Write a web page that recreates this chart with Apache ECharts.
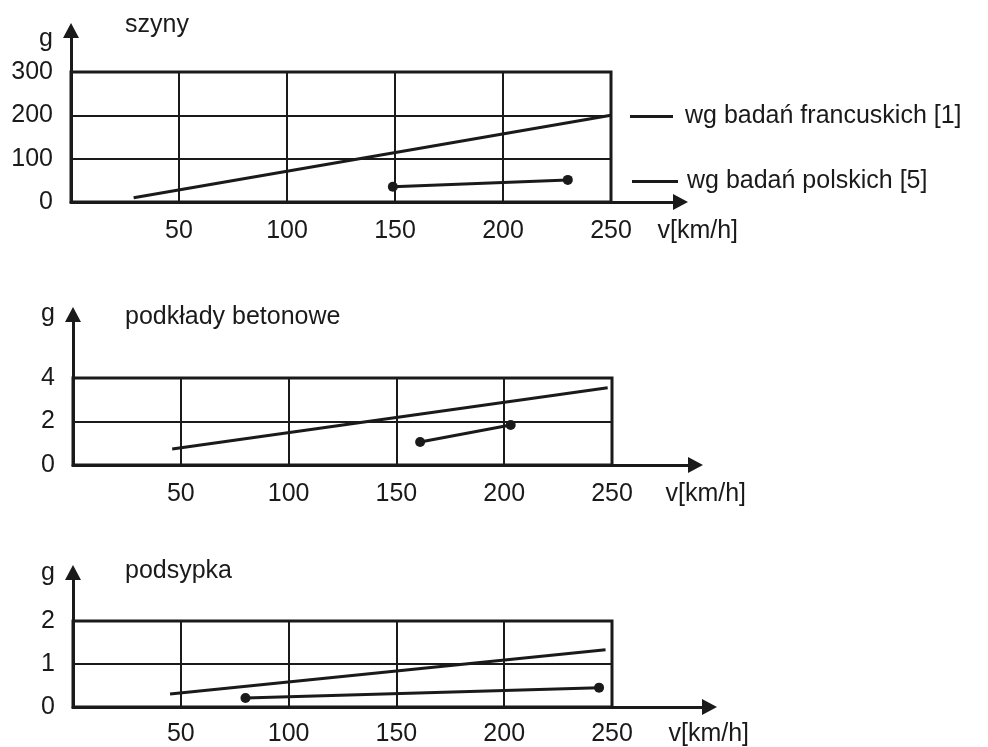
<!DOCTYPE html>
<html><head><meta charset="utf-8">
<script src="https://cdn.jsdelivr.net/npm/echarts@6/dist/echarts.min.js"></script>
<style>html,body{margin:0;padding:0;background:#fff}#c{width:988px;height:747px}</style>
</head><body><div id="c"></div>
<script>
// ---- data ----
const xTicks = [0, 50, 100, 150, 200, 250];
const panelTitles = ['szyny', 'podkłady betonowe', 'podsypka'];
const yTicksSzyny = [0, 100, 200, 300];
const yTicksPodklady = [0, 2, 4];
const yTicksPodsypka = [0, 1, 2];
const seriesNames = ['wg badań francuskich [1]', 'wg badań polskich [5]'];
const xAxisName = 'v[km/h]';
const yAxisName = 'g';

const frenchSzyny = [[29, 10], [250, 200]];
const polishSzyny = [[149, 35], [230, 51]];
const frenchPodklady = [[46, 0.74], [248, 3.55]];
const polishPodklady = [[161, 1.06], [203, 1.84]];
const frenchPodsypka = [[45, 0.3], [247, 1.33]];
const polishPodsypka = [[80, 0.21], [244, 0.45]];

// ---- layout / style ----
const INK = '#1a1a1a';
const FONT = '"Liberation Sans", Arial, sans-serif';
const FS = 25;
const ARROW_H = 15;
const layout = [
  { left: 71, top: 72, width: 540, height: 130, tipX: 688, tipY: 23, lm: 17, nameGapX: -23, nameGapY: -9, titleTop: 13, yTicks: yTicksSzyny, french: frenchSzyny, polish: polishSzyny },
  { left: 73, top: 378, width: 539, height: 87, tipX: 703, tipY: 307, lm: 17, nameGapX: -30, nameGapY: 0, titleTop: 305, yTicks: yTicksPodklady, french: frenchPodklady, polish: polishPodklady },
  { left: 73, top: 621, width: 539, height: 86, tipX: 717, tipY: 565, lm: 15, nameGapX: -41, nameGapY: -1, titleTop: 559, yTicks: yTicksPodsypka, french: frenchPodsypka, polish: polishPodsypka }
];

const grid = [], xAxis = [], yAxis = [], series = [], title = [];
layout.forEach((p, i) => {
  const a = 2 * i, b = 2 * i + 1;
  const bottomPx = p.top + p.height;
  const bTop = p.tipY + ARROW_H / 2;
  grid.push({ left: p.left, top: p.top, width: p.width, height: p.height, show: true, borderWidth: 3, borderColor: INK, backgroundColor: 'transparent', containLabel: false });
  grid.push({ left: p.left, top: bTop, width: p.tipX - ARROW_H / 2 - p.left, height: bottomPx - bTop, containLabel: false });
  xAxis.push({
    gridIndex: a, type: 'value', min: xTicks[0], max: xTicks[xTicks.length - 1], interval: xTicks[1] - xTicks[0],
    axisLine: { show: false }, axisTick: { show: false },
    axisLabel: { margin: p.lm, fontSize: FS, color: INK, fontFamily: FONT, formatter: v => (v === 0 ? '' : String(v)) },
    splitLine: { show: true, lineStyle: { color: INK, width: 2 } }
  });
  xAxis.push({
    gridIndex: b, type: 'value', min: 0, max: 1,
    axisLine: { show: true, onZero: false, symbol: ['none', 'triangle'], symbolSize: [16, ARROW_H], lineStyle: { color: INK, width: 3 } },
    axisTick: { show: false }, axisLabel: { show: false }, splitLine: { show: false },
    name: xAxisName, nameLocation: 'end', nameGap: p.nameGapX,
    nameTextStyle: { align: 'left', verticalAlign: 'top', padding: [p.lm, 0, 0, 0], fontSize: FS, color: INK, fontFamily: FONT }
  });
  const yt = p.yTicks;
  yAxis.push({
    gridIndex: a, type: 'value', min: yt[0], max: yt[yt.length - 1], interval: yt[1] - yt[0],
    axisLine: { show: false }, axisTick: { show: false },
    axisLabel: { margin: 18, padding: [5, 0, 0, 0], fontSize: FS, color: INK, fontFamily: FONT },
    splitLine: { show: true, lineStyle: { color: INK, width: 2 } }
  });
  yAxis.push({
    gridIndex: b, type: 'value', min: 0, max: 1,
    axisLine: { show: true, onZero: false, symbol: ['none', 'triangle'], symbolSize: [16, ARROW_H], lineStyle: { color: INK, width: 3 } },
    axisTick: { show: false }, axisLabel: { show: false }, splitLine: { show: false },
    name: yAxisName, nameLocation: 'end', nameGap: p.nameGapY,
    nameTextStyle: { align: 'right', verticalAlign: 'middle', padding: [0, 18, 0, 0], fontSize: FS, color: INK, fontFamily: FONT }
  });
  series.push({
    name: seriesNames[0], type: 'line', xAxisIndex: a, yAxisIndex: a, data: p.french,
    symbol: 'none', lineStyle: { color: INK, width: 3 }, itemStyle: { color: INK }, silent: true, z: 5
  });
  series.push({
    name: seriesNames[1], type: 'line', xAxisIndex: a, yAxisIndex: a, data: p.polish,
    symbol: 'circle', symbolSize: 10, showAllSymbol: true, lineStyle: { color: INK, width: 3 }, itemStyle: { color: INK }, silent: true, z: 5
  });
  title.push({ text: panelTitles[i], left: 125, top: p.titleTop, padding: 0, textStyle: { fontSize: FS, fontWeight: 'normal', color: INK, fontFamily: FONT } });
});

const legendText = { fontSize: FS, color: INK, fontFamily: FONT };
const option = {
  animation: false,
  backgroundColor: '#fff',
  textStyle: { fontFamily: FONT },
  title: title,
  grid: grid,
  xAxis: xAxis,
  yAxis: yAxis,
  legend: [
    { data: [seriesNames[0]], left: 630, top: 104, padding: 0, icon: 'rect', itemWidth: 43, itemHeight: 3, selectedMode: false, itemStyle: { color: INK }, textStyle: Object.assign({ padding: [0, 0, 0, 7] }, legendText) },
    { data: [seriesNames[1]], left: 632, top: 169, padding: 0, icon: 'rect', itemWidth: 46, itemHeight: 3, selectedMode: false, itemStyle: { color: INK }, textStyle: Object.assign({ padding: [0, 0, 0, 4] }, legendText) }
  ],
  series: series
};
const chart = echarts.init(document.getElementById('c'), null, { renderer: 'canvas' });
chart.setOption(option);
</script></body></html>
